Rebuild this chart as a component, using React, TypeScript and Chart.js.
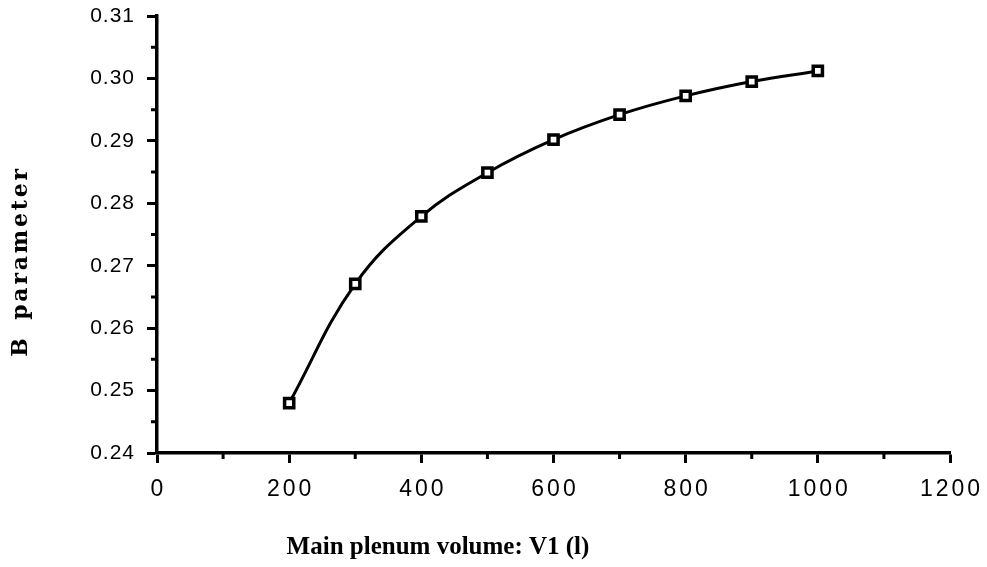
import React, { useEffect, useRef } from "react";
import { Chart, registerables } from "chart.js";

Chart.register(...registerables);

const volumes = [200, 300, 400, 500, 600, 700, 800, 900, 1000];
const bParam = [0.248, 0.2671, 0.2779, 0.2849, 0.2902, 0.2942, 0.2972, 0.2995, 0.3012];
const xMinorTicks = [100, 300, 500, 700, 900, 1100];
const yMinorTicks = [0.245, 0.255, 0.265, 0.275, 0.285, 0.295, 0.305];
const xTitle = "Main plenum volume: V1 (l)";
const yTitleB = "B";
const yTitleRest = "parameter";

const decorPlugin = {
  id: "decor",
  afterDraw(chart: any) {
    const { ctx, chartArea, scales } = chart;
    const xs = scales.x;
    const ys = scales.y;
    ctx.save();
    ctx.strokeStyle = "#000";
    ctx.lineWidth = 3;
    ctx.beginPath();
    for (const v of xMinorTicks) {
      const px = xs.getPixelForValue(v);
      ctx.moveTo(px, chartArea.bottom);
      ctx.lineTo(px, chartArea.bottom + 6);
    }
    for (const v of yMinorTicks) {
      const py = ys.getPixelForValue(v);
      ctx.moveTo(chartArea.left - 6, py);
      ctx.lineTo(chartArea.left, py);
    }
    ctx.stroke();

    ctx.fillStyle = "#000";
    // tick labels
    ctx.textBaseline = "middle";
    ctx.font = "23px 'Liberation Sans', Arial, sans-serif";
    (ctx as any).letterSpacing = "3px";
    ctx.textAlign = "center";
    for (const t of xs.ticks) {
      ctx.fillText(String(t.value), xs.getPixelForValue(t.value) + 1.5, chartArea.bottom + 37);
    }
    ctx.font = "21px 'Liberation Sans', Arial, sans-serif";
    (ctx as any).letterSpacing = "1px";
    ctx.textAlign = "right";
    for (const t of ys.ticks) {
      ctx.fillText(Number(t.value).toFixed(2), chartArea.left - 22, ys.getPixelForValue(t.value));
    }

    (ctx as any).letterSpacing = "0px";
    ctx.font = "bold 25px 'Liberation Serif', 'Times New Roman', serif";
    ctx.textAlign = "center";
    ctx.fillText(xTitle, chartArea.left + 281, chartArea.bottom + 95);

    ctx.translate(21, 0);
    ctx.rotate(-Math.PI / 2);
    ctx.font = "bold 22px 'DejaVu Serif', serif";
    (ctx as any).letterSpacing = "2.8px";
    ctx.textAlign = "center";
    ctx.fillText(yTitleB, -346, 0);
    ctx.fillText(yTitleRest, -243, 0);
    ctx.restore();
  },
};

export default function App() {
  const ref = useRef<HTMLCanvasElement | null>(null);
  useEffect(() => {
    document.body.style.margin = "0";
    const canvas = ref.current;
    if (!canvas) return;
    const chart = new Chart(canvas, {
      type: "line",
      data: {
        datasets: [
          {
            data: volumes.map((v, i) => ({ x: v, y: bParam[i] })),
            borderColor: "#000",
            borderWidth: 3,
            tension: 0.4,
            pointStyle: "rect",
            pointRadius: 6.5,
            pointBorderWidth: 3.5,
            pointBorderColor: "#000",
            pointBackgroundColor: "#fff",
            fill: false,
          },
        ],
      },
      options: {
        responsive: false,
        animation: false,
        layout: { padding: { left: 0, top: 16, right: 37, bottom: 0 } },
        plugins: { legend: { display: false }, tooltip: { enabled: false }, title: { display: false } },
        scales: {
          x: {
            type: "linear",
            min: 0,
            max: 1200,
            afterFit: (s: any) => { s.height = 114; s.paddingLeft = 0; s.paddingRight = 0; },
            ticks: { stepSize: 200, display: false },
            grid: { drawOnChartArea: false, drawTicks: true, tickLength: 10, tickWidth: 3, tickColor: "#000" },
            border: { display: true, color: "#000", width: 3.5 },
          },
          y: {
            type: "linear",
            min: 0.24,
            max: 0.31,
            afterFit: (s: any) => { s.width = 157; s.paddingTop = 0; s.paddingBottom = 0; },
            ticks: { stepSize: 0.01, display: false },
            grid: { drawOnChartArea: false, drawTicks: true, tickLength: 10, tickWidth: 3, tickColor: "#000" },
            border: { display: true, color: "#000", width: 3.5 },
          },
        },
      },
      plugins: [decorPlugin],
    } as any);
    return () => chart.destroy();
  }, []);
  return <canvas ref={ref} width={987} height={567} style={{ display: "block" }} />;
}
